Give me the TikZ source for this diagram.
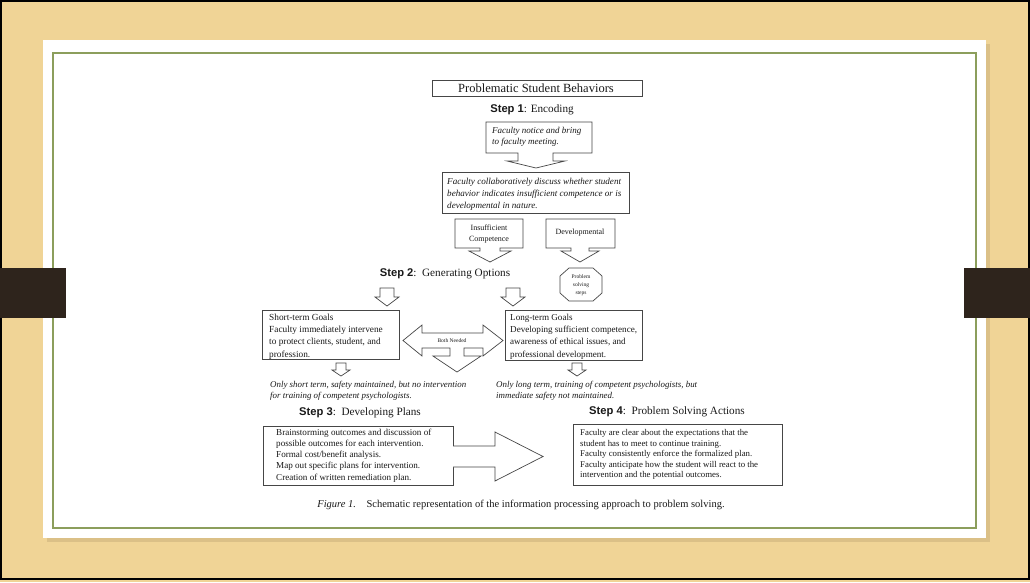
\documentclass[tikz,border=0pt]{standalone}
\usepackage{fontspec}
\setmainfont{Liberation Serif}
\setsansfont{Liberation Sans}
\definecolor{bg}{RGB}{240,212,150}
\definecolor{bgshadow}{RGB}{205,180,125}
\definecolor{frame}{RGB}{140,158,92}
\definecolor{bar}{RGB}{46,36,28}
\definecolor{ln}{RGB}{70,70,70}
\definecolor{tx}{RGB}{25,25,25}
\newcommand\myfs[2]{\fontsize{#1}{#2}\selectfont}
\begin{document}
\begin{tikzpicture}[x=1pt,y=-1pt,
  blk/.style={draw=ln,line width=0.7pt,fill=white,line join=miter},
  lbl/.style={inner sep=0pt,text=tx},
  lft/.style={lbl,anchor=west,align=left},
  steplbl/.style={lbl,font=\myfs{11.2}{13}}
]
\useasboundingbox (0,0) rectangle (1030,582);
% background
\fill[bg] (0,0) rectangle (1030,582);
\draw[black,line width=1.2pt] (1,1) rectangle (1029,579);
\fill[bgshadow,opacity=0.6] (47,44) rectangle (990,542);
\fill[white] (43,40) rectangle (986,538);
\draw[frame,line width=1.2pt] (53,53) rectangle (976,528);
\fill[bar] (0,268) rectangle (66,318);
\fill[bar] (964,268) rectangle (1030,318);

% title
\draw[blk] (432,80) rectangle (642,96);
\node[lbl,font=\myfs{12.5}{14}] (title) at (536,88) {Problematic Student Behaviors};
\node[steplbl] (s1) at (532,110) {\textsf{\bfseries Step 1}: Encoding};

% notice callout
\draw[blk] (486,122) -- (592,122) -- (592,153) -- (553,153) -- (553,161) -- (565,161) -- (536,168) -- (507,161) -- (518,161) -- (518,153) -- (486,153) -- cycle;
\node[lft,font=\myfs{9}{11.5}\itshape] (notice) at (492,137) {Faculty notice and bring\\to faculty meeting.};

% collaborate
\draw[blk] (442,172) rectangle (629,213);
\node[lft,font=\myfs{9.1}{12}\itshape] (collab) at (447,194) {Faculty collaboratively discuss whether student\\behavior indicates insufficient competence or is\\developmental in nature.};

% insufficient / developmental
\draw[blk] (455,219) -- (523,219) -- (523,248) -- (500,248) -- (500,251) -- (511,251) -- (490,262) -- (469,251) -- (480,251) -- (480,248) -- (455,248) -- cycle;
\node[lbl,align=center,font=\myfs{8}{11}] (insuf) at (489,234) {Insufficient\\Competence};
\draw[blk] (546,219) -- (615,219) -- (615,248) -- (589,248) -- (589,251) -- (599,251) -- (580,262) -- (561,251) -- (571,251) -- (571,248) -- (546,248) -- cycle;
\node[lbl,font=\myfs{8}{11}] (devel) at (580,233) {Developmental};

% step 2
\node[steplbl] (s2) at (445,274) {\textsf{\bfseries Step 2}:\ \ Generating Options};
\draw[blk] (569,268) -- (593,268) -- (602,276) -- (602,293) -- (593,301) -- (569,301) -- (560,293) -- (560,276) -- cycle;
\node[lbl,align=center,font=\myfs{5.5}{8}] (pss) at (581,285) {Problem\\solving\\steps};

\draw[blk] (380,288) -- (394,288) -- (394,297) -- (399,297) -- (387,306) -- (375,297) -- (380,297) -- cycle;
\draw[blk] (506,288) -- (520,288) -- (520,297) -- (525,297) -- (513,306) -- (501,297) -- (506,297) -- cycle;

% goals boxes
\draw[blk] (262,310) rectangle (399,359);
\node[lft,font=\myfs{9.3}{12.3}] (short) at (269,336.5) {Short-term Goals\\Faculty immediately intervene\\to protect clients, student, and\\profession.};
\draw[blk] (505,310) rectangle (642,360);
\node[lft,font=\myfs{9.1}{12.3}] (long) at (510,336.5) {Long-term Goals\\Developing sufficient competence,\\awareness of ethical issues, and\\professional development.};

% both needed
\draw[blk] (403,340.5) -- (422,325) -- (422,333) -- (483,333) -- (483,325) -- (503,340.5) -- (483,356) -- (483,348) -- (464,348) -- (464,356) -- (481,356) -- (457,372) -- (433,356) -- (450,356) -- (450,348) -- (422,348) -- (422,356) -- cycle;
\node[lbl,font=\myfs{5.5}{7}] (both) at (452,340.5) {Both Needed};

% small arrows
\draw[blk] (336,363) -- (346,363) -- (346,370) -- (350,370) -- (341,376) -- (332,370) -- (336,370) -- cycle;
\draw[blk] (572,363) -- (582,363) -- (582,370) -- (586,370) -- (577,376) -- (568,370) -- (572,370) -- cycle;

\node[lft,font=\myfs{8.9}{11}\itshape] (onlyshort) at (270,390.5) {Only short term, safety maintained, but no intervention\\for training of competent psychologists.};
\node[lft,font=\myfs{8.9}{11}\itshape] (onlylong) at (496,390.5) {Only long term, training of competent psychologists, but\\immediate safety not maintained.};

% step 3
\node[steplbl] (s3) at (360,413) {\textsf{\bfseries Step 3}:\ \ Developing Plans};
\draw[blk] (263,426) rectangle (453,485);
\draw[blk] (453,446) -- (495,446) -- (495,432) -- (543,456.5) -- (495,481) -- (495,467) -- (453,467);
\node[lft,font=\myfs{9.1}{11.2}] (plans) at (276,455.5) {Brainstorming outcomes and discussion of\\possible outcomes for each intervention.\\Formal cost/benefit analysis.\\Map out specific plans for intervention.\\Creation of written remediation plan.};

% step 4
\node[steplbl] (s4) at (667,412) {\textsf{\bfseries Step 4}:\ \ Problem Solving Actions};
\draw[blk] (573,424) rectangle (782,485);
\node[lft,font=\myfs{8.8}{10.5}] (actions) at (580,454.5) {Faculty are clear about the expectations that the\\student has to meet to continue training.\\Faculty consistently enforce the formalized plan.\\Faculty anticipate how the student will react to the\\intervention and the potential outcomes.};

% caption
\node[lbl,font=\myfs{10.5}{12}] (caption) at (521,505) {\textit{Figure 1.}\quad Schematic representation of the information processing approach to problem solving.};
\end{tikzpicture}
\end{document}
